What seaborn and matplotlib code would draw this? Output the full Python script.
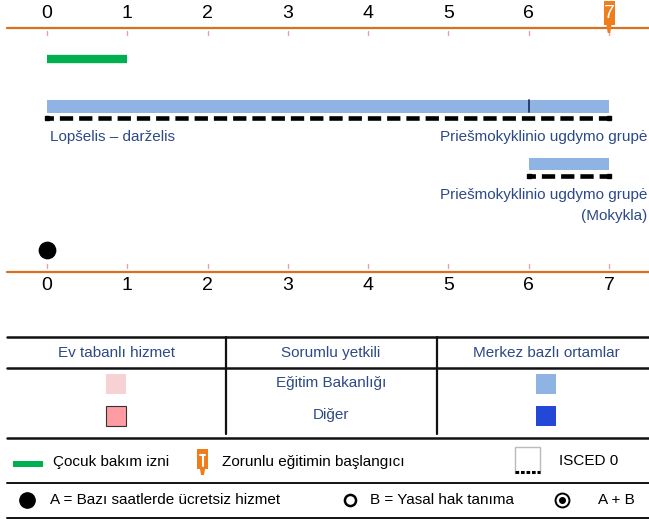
import matplotlib
matplotlib.use("Agg")
import matplotlib.pyplot as plt
from matplotlib.patches import Rectangle, Polygon
import pandas as pd
import seaborn as sns

# ---- data -------------------------------------------------------------
ages = [0, 1, 2, 3, 4, 5, 6, 7]
childcare_leave = [0, 1]                     # start / end age
setting_rows = [0, 0, 1]
setting_start = [0, 6, 6]
setting_end = [6, 7, 7]
setting_names = ["Lopšelis – darželis",
                 "Priešmokyklinio ugdymo grupė",
                 "Priešmokyklinio ugdymo grupė\n(Mokykla)"]
isced_start = [0, 6]
isced_end = [7, 7]
compulsory_start = 7
free_hours_age = [0]

header_labels = ["Ev tabanlı hizmet", "Sorumlu yetkili", "Merkez bazlı ortamlar"]
authority_labels = ["Eğitim Bakanlığı", "Diğer"]
legend_leave = "Çocuk bakım izni"
legend_compulsory = "Zorunlu eğitimin başlangıcı"
legend_isced = "ISCED 0"
legend_a = "A = Bazı saatlerde ücretsiz hizmet"
legend_b = "B = Yasal hak tanıma"
legend_ab = "A + B"

# ---- style ------------------------------------------------------------
sns.set_theme(style="white")
plt.rcParams["font.family"] = ["Liberation Sans", "DejaVu Sans"]
FS = 11

ORANGE = "#d8701f"
MARK_ORANGE = "#f07d1c"
TEXT_BLUE = "#2c4a86"
LIGHT_BLUE = "#8fb4e3"
DARK_BLUE = "#2348d8"
LIGHT_PINK = "#f6d2d5"
DARK_PINK = "#ff9ba3"
GREEN = "#00b050"

W, H = 649, 519
fig = plt.figure(figsize=(W / 100, H / 100), dpi=100)

# timeline axes: x in years, y in pixel rows
PX_PER_YEAR = (609 - 47) / 7
ax = fig.add_axes([0, 0, 1, 1])
ax.set_xlim(-47 / PX_PER_YEAR, (W - 47) / PX_PER_YEAR)
ax.set_ylim(H, 0)
ax.axis("off")

# overlay axes for the key table, in pixel coordinates
kx = fig.add_axes([0, 0, 1, 1])
kx.set_xlim(0, W)
kx.set_ylim(H, 0)
kx.axis("off")
kx.patch.set_alpha(0)

# axis lines at top and bottom
x_left = (7 - 47) / PX_PER_YEAR
x_right = (W - 47) / PX_PER_YEAR
for y in (28, 272):
    ax.plot([x_left, x_right], [y, y], color=ORANGE, lw=1.6, zorder=2)

# tick marks and numbers
for a in ages:
    ax.plot([a, a], [31, 35], color="#e9a0a0", lw=1.0, zorder=2)
    ax.plot([a, a], [264, 268], color="#e9a0a0", lw=1.0, zorder=2)
    ax.text(a, 286, str(a), ha="center", va="center", fontsize=14, color="black")
    if a != compulsory_start:
        ax.text(a, 14, str(a), ha="center", va="center", fontsize=14, color="black")

# start of compulsory education marker on the top axis
bw = 11 / PX_PER_YEAR
ax.add_patch(Rectangle((compulsory_start - bw / 2, 1), bw, 24,
                       facecolor=MARK_ORANGE, edgecolor="none", zorder=3))
nw = 5 / PX_PER_YEAR
ax.add_patch(Polygon([(compulsory_start - nw / 2, 25), (compulsory_start + nw / 2, 25),
                      (compulsory_start + nw / 4, 33), (compulsory_start - nw / 4, 33)],
                     closed=True, facecolor=MARK_ORANGE, edgecolor="none", zorder=3))
ax.text(compulsory_start, 14, str(compulsory_start), ha="center", va="center",
        fontsize=14, color="white", zorder=4)

# childcare leave
leave_df = pd.DataFrame({"age": childcare_leave, "y": [59, 59]})
sns.lineplot(data=leave_df, x="age", y="y", ax=ax, color=GREEN, lw=6,
             solid_capstyle="butt", legend=False)

# ECEC settings (centre-based, Ministry of Education)
row_y = [106.5, 164]
row_h = [13, 12]
for r, s, e in zip(setting_rows, setting_start, setting_end):
    ax.barh(row_y[r], e - s, left=s, height=row_h[r], color=LIGHT_BLUE,
            edgecolor="none", zorder=2)
# boundary between the two settings of the first row
ax.plot([6, 6], [100, 112], color="#1d3560", lw=1.3, zorder=3)

# ISCED 0 dashed underlines
dash_y = [117.5, 176]
for r, (s, e) in enumerate(zip(isced_start, isced_end)):
    d = pd.DataFrame({"age": [s, e], "y": [dash_y[r]] * 2})
    sns.lineplot(data=d, x="age", y="y", ax=ax, color="black", lw=3.3,
                 linestyle=(1.5, (2.9, 1.3)), legend=False, zorder=3)
    ax.plot([s, e], [dash_y[r]] * 2, ls="none", marker="s", ms=3.3,
            color="black", zorder=3)

# setting names
label_right = (647 - 47) / PX_PER_YEAR
ax.text(setting_start[0] + 3 / PX_PER_YEAR, 137, setting_names[0], ha="left",
        va="center", fontsize=FS, color=TEXT_BLUE)
ax.text(label_right, 137, setting_names[1], ha="right", va="center",
        fontsize=FS, color=TEXT_BLUE)
ax.text(label_right, 205.5, setting_names[2], ha="right", va="center",
        fontsize=FS, color=TEXT_BLUE, linespacing=1.7, multialignment="right")

# free hours (A)
dot_df = pd.DataFrame({"age": free_hours_age, "y": [250]})
sns.scatterplot(data=dot_df, x="age", y="y", ax=ax, s=140, color="black",
                edgecolor="black", legend=False, zorder=4)

# ---- key table ----------------------------------------------------------
for y, lw in [(337, 1.8), (368, 1.8), (438, 1.8), (483, 1.4), (518, 1.4)]:
    kx.plot([7, W], [y, y], color="#111111", lw=lw)
for x in (226, 437):
    kx.plot([x, x], [337, 434], color="#111111", lw=1.6)

col_x = [116, 331, 546]
for cx, lab in zip(col_x, header_labels):
    kx.text(cx, 353, lab, ha="center", va="center", fontsize=FS, color=TEXT_BLUE)
row_ty = [383, 415]
for ty, lab in zip(row_ty, authority_labels):
    kx.text(col_x[1], ty, lab, ha="center", va="center", fontsize=FS, color=TEXT_BLUE)

# swatches
kx.add_patch(Rectangle((106, 374), 20, 20, facecolor=LIGHT_PINK, edgecolor="none"))
kx.add_patch(Rectangle((106, 406), 20, 20, facecolor=DARK_PINK, edgecolor="#333333", lw=0.8))
kx.add_patch(Rectangle((536, 374), 20, 20, facecolor=LIGHT_BLUE, edgecolor="none"))
kx.add_patch(Rectangle((536, 406), 20, 20, facecolor=DARK_BLUE, edgecolor="none"))

# legend row 1
kx.add_patch(Rectangle((13, 461), 30, 6, facecolor=GREEN, edgecolor="none"))
kx.text(53, 462, legend_leave, ha="left", va="center", fontsize=FS, color="black")
kx.add_patch(Rectangle((197, 449), 11, 20, facecolor=MARK_ORANGE, edgecolor="none"))
kx.add_patch(Polygon([(200, 469), (205, 469), (204, 475), (201, 475)],
                     closed=True, facecolor=MARK_ORANGE, edgecolor="none"))
kx.plot([200, 205], [455, 455], color="white", lw=1.5)
kx.plot([202.5, 202.5], [455, 466], color="white", lw=1.5)
kx.text(222, 462, legend_compulsory, ha="left", va="center", fontsize=FS, color="black")
kx.plot([515, 515, 540, 540], [473, 447, 447, 473], color="#bbbbbb", lw=1.0)
kx.plot([515, 540], [472, 472], color="black", lw=2.2, linestyle=(0, (1.2, 0.6)))
kx.text(559, 461, legend_isced, ha="left", va="center", fontsize=FS, color="black")

# legend row 2
kx.plot([27], [500], marker="o", ms=11, color="black", ls="none")
kx.text(50, 500, legend_a, ha="left", va="center", fontsize=FS, color="black")
kx.plot([350], [500], marker="o", ms=8, mfc="white", mec="black", mew=1.8, ls="none")
kx.text(370, 500, legend_b, ha="left", va="center", fontsize=FS, color="black")
kx.plot([562], [500], marker="o", ms=10, mfc="white", mec="black", mew=1.4, ls="none")
kx.plot([562], [500], marker="o", ms=4, color="black", ls="none")
kx.text(598, 500, legend_ab, ha="left", va="center", fontsize=FS, color="black")

fig.savefig("out.png", dpi=100)
